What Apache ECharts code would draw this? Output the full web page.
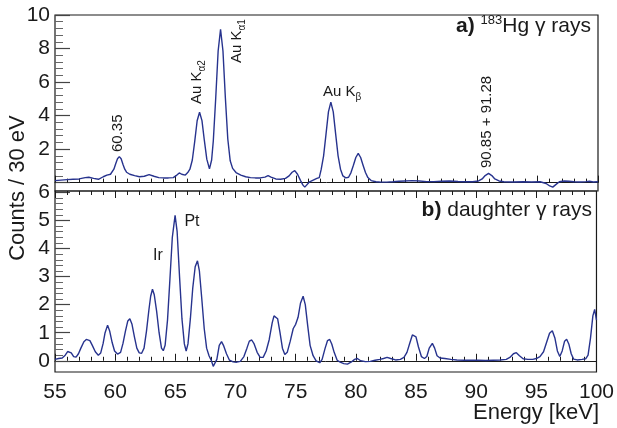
<!DOCTYPE html>
<html>
<head>
    <meta charset="utf-8">
    <title>Hg183 spectra</title>
    <script src="https://cdn.jsdelivr.net/npm/echarts@6/dist/echarts.min.js"></script>
    <style>
        body { margin: 0; background: #fff; }
        #main { width: 617px; height: 428px; }
    </style>
    <script type="text/javascript">
    // panel a) 183Hg gamma rays : energy [keV] / counts per 30 eV
    var topEnergy = [55.0, 55.5, 56.0, 56.5, 57.0, 57.5, 57.8, 58.2, 58.6, 59.0, 59.3, 59.6,
        59.73, 59.88, 60.03, 60.18, 60.33, 60.48, 60.63, 60.78, 60.93, 61.2, 61.6, 62.0, 62.4, 62.8,
        63.2, 63.6, 64.0, 64.4, 64.8, 65.1, 65.3, 65.5, 65.8, 66.0, 66.18, 66.38, 66.58, 66.78,
        66.98, 67.18, 67.38, 67.58, 67.8, 67.98, 68.12, 68.32, 68.52, 68.72, 68.92, 69.12, 69.32,
        69.52, 69.72, 70.0, 70.4, 70.8, 71.2, 71.6, 72.0, 72.4, 72.66, 72.9, 73.3, 73.7, 74.1,
        74.4, 74.65, 74.87, 75.1, 75.35, 75.55, 75.7, 75.85, 76.1, 76.4, 76.7, 76.9, 77.06, 77.26,
        77.46, 77.66, 77.86, 78.06, 78.26, 78.46, 78.66, 78.86, 79.1, 79.33, 79.53, 79.73, 79.93,
        80.13, 80.33, 80.53, 80.73, 80.93, 81.2, 81.6, 82.0, 82.5, 83.0, 83.5, 84.0, 84.6, 85.2,
        85.8, 86.4, 87.0, 87.7, 88.4, 89.0, 89.6, 90.1, 90.4, 90.65, 90.93, 91.2, 91.45, 91.8,
        92.2, 93.0, 93.8, 94.5, 95.2, 95.7, 96.0, 96.25, 96.5, 96.8, 97.2, 97.6, 98.0, 98.5, 99.0,
        99.3, 99.6, 100.0];
    var topCounts = [0.12, 0.15, 0.18, 0.2, 0.22, 0.3, 0.32, 0.25, 0.2, 0.35, 0.45, 0.5,
        0.6, 0.8, 1.12, 1.42, 1.55, 1.42, 1.1, 0.8, 0.62, 0.5, 0.42, 0.35, 0.38, 0.48,
        0.38, 0.3, 0.28, 0.28, 0.3, 0.45, 0.58, 0.5, 0.45, 0.6, 0.8, 1.35, 2.46, 3.69,
        4.2, 3.7, 2.5, 1.4, 0.82, 1.35, 2.5, 5.05, 7.85, 9.15, 7.85, 5.05, 2.6,
        1.3, 0.85, 0.6, 0.45, 0.35, 0.3, 0.28, 0.28, 0.33, 0.42, 0.33, 0.22, 0.2, 0.25,
        0.4, 0.62, 0.72, 0.5, 0.12, -0.15, -0.27, -0.2, 0.05, 0.15, 0.25, 0.3, 0.79, 1.6,
        2.89, 4.22, 4.8, 4.22, 2.89, 1.6, 0.8, 0.4, 0.28, 0.32, 0.6, 1.04, 1.5,
        1.75, 1.5, 1.04, 0.6, 0.3, 0.12, 0.05, 0.03, 0.03, 0.05, 0.08, 0.1, 0.12, 0.1,
        0.06, 0.06, 0.08, 0.1, 0.07, 0.05, 0.05, 0.1, 0.22, 0.42, 0.55, 0.42, 0.22, 0.1,
        0.05, 0.04, 0.05, 0.04, 0.05, -0.05, -0.2, -0.27, -0.12, 0.05, 0.1, 0.08, 0.05, 0.04, 0.06,
        0.08, 0.04, 0.05];

    // panel b) daughter gamma rays
    var botEnergy = [55.0, 55.3, 55.6, 55.85, 56.05, 56.18, 56.35, 56.55, 56.75, 56.95, 57.15, 57.4,
        57.6, 57.71, 57.9, 58.1, 58.35, 58.6, 58.8, 59.0, 59.15, 59.37, 59.55, 59.75, 59.95, 60.2,
        60.45, 60.65, 60.85, 61.05, 61.22, 61.4, 61.6, 61.8, 62.0, 62.2, 62.4, 62.6, 62.8, 62.95,
        63.1, 63.25, 63.45, 63.65, 63.85, 64.0, 64.15, 64.35, 64.55, 64.75, 64.98, 65.15, 65.35,
        65.55, 65.75, 65.9, 66.05, 66.25, 66.45, 66.65, 66.84, 67.0, 67.2, 67.4, 67.6, 67.8, 68.0,
        68.15, 68.3, 68.45, 68.65, 68.84, 69.0, 69.25, 69.5, 69.8, 70.1, 70.4, 70.7, 70.95, 71.15,
        71.35, 71.55, 71.8, 72.05, 72.3, 72.55, 72.8, 73.05, 73.2, 73.35, 73.5, 73.7, 73.9, 74.1,
        74.3, 74.55, 74.8, 75.0, 75.2, 75.4, 75.62, 75.8, 76.0, 76.2, 76.45, 76.7, 77.0, 77.2,
        77.45, 77.65, 77.83, 78.0, 78.2, 78.45, 78.7, 79.0, 79.3, 79.6, 79.9, 80.13, 80.4, 80.8,
        81.2, 81.6, 82.0, 82.3, 82.6, 82.9, 83.3, 83.7, 84.0, 84.25, 84.5, 84.7, 84.83, 85.0,
        85.2, 85.45, 85.7, 85.9, 86.1, 86.36, 86.55, 86.75, 87.0, 87.4, 87.9, 88.4, 89.0, 89.6,
        90.2, 90.8, 91.4, 92.0, 92.5, 92.8, 93.1, 93.34, 93.6, 93.9, 94.3, 94.7, 95.0, 95.3,
        95.6, 95.85, 96.1, 96.33, 96.55, 96.75, 96.95, 97.15, 97.35, 97.52, 97.7, 97.9, 98.1,
        98.4, 98.8, 99.1, 99.3, 99.5, 99.7, 99.85, 100.0];
    var botCounts = [0.05, 0.08, 0.1, 0.2, 0.33, 0.36, 0.28, 0.15, 0.13, 0.25, 0.45, 0.68,
        0.76, 0.77, 0.72, 0.55, 0.32, 0.2, 0.28, 0.62, 0.98, 1.27, 1.05, 0.65, 0.35, 0.24,
        0.3, 0.62, 1.05, 1.42, 1.5, 1.3, 0.85, 0.45, 0.28, 0.27, 0.45, 1.05, 1.8, 2.3,
        2.55, 2.35, 1.75, 1.0, 0.45, 0.36, 0.55, 1.45, 2.9, 4.4, 5.18, 4.6, 3.0,
        1.5, 0.6, 0.35, 0.6, 1.5, 2.6, 3.35, 3.56, 3.2, 2.2, 1.15, 0.45, 0.18, 0.0,
        -0.2, -0.27, 0.05, 0.55, 0.68, 0.55, 0.25, 0.02, -0.04, -0.05, -0.02, 0.15, 0.45, 0.7,
        0.74, 0.6, 0.3, 0.12, 0.12, 0.35, 0.75, 1.35, 1.6, 1.66, 1.5, 1.0, 0.45, 0.22,
        0.3, 0.7, 1.15, 1.3, 1.55, 2.05, 2.3, 2.0, 1.25, 0.55, 0.18, 0.0, -0.07, 0.05,
        0.45, 0.72, 0.76, 0.6, 0.3, 0.02, -0.05, -0.1, -0.12, -0.05, 0.05, 0.08, 0.0, -0.03,
        -0.02, 0.02, 0.05, 0.08, 0.12, 0.08, 0.03, 0.05, 0.12, 0.3, 0.65, 0.92, 0.97, 0.85,
        0.5, 0.15, 0.08, 0.15, 0.45, 0.62, 0.45, 0.18, 0.1, 0.08, 0.05, 0.03, 0.02, 0.02,
        0.02, 0.01, 0.02, 0.03, 0.05, 0.12, 0.25, 0.29, 0.18, 0.07, 0.05, 0.05, 0.08, 0.15,
        0.32, 0.65, 0.98, 1.07, 0.8, 0.35, 0.15, 0.35, 0.7, 0.77, 0.6, 0.25, 0.06,
        0.03, 0.05, 0.07, 0.2, 0.8, 1.6, 1.83, 1.45];

    var energyTicks = [55, 100, 5];   // min, max, step
    var topTicks = [0, 10, 2];
    var botTicks = [0, 6, 1];

    function zip(xs, ys) {
        var out = [];
        for (var i = 0; i < xs.length; i++) out.push([xs[i], ys[i]]);
        return out;
    }

    window.onload = function () {
        var font = 'Liberation Sans, Arial, Helvetica, sans-serif';
        var ink = '#1a1a1a';
        var blue = '#27338e';

        var xTick = { show: true, inside: true, length: 7, lineStyle: { color: ink, width: 1 } };
        var xMinor = { show: true, splitNumber: 5, length: 4, lineStyle: { color: ink, width: 1 } };
        var yTick = { show: true, inside: true, length: 15, lineStyle: { color: '#444', width: 1.2 } };
        var yMinor = { show: true, splitNumber: 5, length: 8, lineStyle: { color: '#666', width: 1 } };

        var option = {
            animation: false,
            // 0,1: data panels; 2,3: tick-only panels covering the labelled range
            grid: [
                { left: 55, top: 15, width: 543, height: 176, show: true, borderColor: ink, borderWidth: 1.2 },
                { left: 55, top: 191, width: 543, height: 181, show: true, borderColor: ink, borderWidth: 1.2 },
                { left: 55, top: 15, width: 543, height: 167.6 },
                { left: 55, top: 192.4, width: 543, height: 168.4 }
            ],
            xAxis: [
                { gridIndex: 0, type: 'value', min: energyTicks[0], max: energyTicks[1], interval: energyTicks[2],
                  axisLine: { lineStyle: { color: ink } }, axisTick: xTick, minorTick: xMinor,
                  axisLabel: { show: false }, splitLine: { show: false } },
                { gridIndex: 1, type: 'value', min: energyTicks[0], max: energyTicks[1], interval: energyTicks[2],
                  axisLine: { lineStyle: { color: ink } }, axisTick: xTick, minorTick: xMinor,
                  axisLabel: { fontSize: 21, fontFamily: font, color: ink, margin: 10 },
                  splitLine: { show: false } },
                { gridIndex: 1, type: 'value', position: 'top', min: energyTicks[0], max: energyTicks[1],
                  interval: energyTicks[2], axisLine: { show: false }, axisTick: xTick, minorTick: xMinor,
                  axisLabel: { show: false }, splitLine: { show: false } },
                { gridIndex: 2, type: 'value', min: 55, max: 100, show: false },
                { gridIndex: 3, type: 'value', min: 55, max: 100, show: false }
            ],
            yAxis: [
                { gridIndex: 0, type: 'value', min: -0.5, max: 10, show: false },
                { gridIndex: 1, type: 'value', min: -0.4, max: 6.05, show: false },
                { gridIndex: 2, type: 'value', min: topTicks[0], max: topTicks[1], interval: topTicks[2],
                  axisLine: { show: false }, axisTick: yTick, minorTick: yMinor, splitLine: { show: false },
                  axisLabel: { fontSize: 21, fontFamily: font, color: ink, margin: 5,
                      formatter: function (v) { return v === 0 ? '' : v; } } },
                { gridIndex: 3, type: 'value', min: botTicks[0], max: botTicks[1], interval: botTicks[2],
                  axisLine: { show: false }, axisTick: yTick, minorTick: yMinor, splitLine: { show: false },
                  axisLabel: { fontSize: 21, fontFamily: font, color: ink, margin: 5 } }
            ],
            series: [
                { type: 'line', xAxisIndex: 0, yAxisIndex: 0, data: zip(topEnergy, topCounts),
                  showSymbol: false, lineStyle: { color: blue, width: 1.4 } },
                { type: 'line', xAxisIndex: 1, yAxisIndex: 1, data: zip(botEnergy, botCounts),
                  showSymbol: false, lineStyle: { color: blue, width: 1.4 } }
            ],
            graphic: [
                { type: 'text', x: 18, y: 188, rotation: Math.PI / 2,
                  style: { text: 'Counts / 30 eV', font: '22px ' + font, fill: ink,
                           textAlign: 'center', textVerticalAlign: 'middle' } },
                { type: 'text', x: 599, y: 413,
                  style: { text: 'Energy [keV]', font: '22px ' + font, fill: ink,
                           textAlign: 'right', textVerticalAlign: 'middle' } },
                { type: 'text', x: 591, y: 26,
                  style: { text: '{b|a)} {sup|183}Hg γ rays', font: '21px ' + font, fill: ink,
                           textAlign: 'right', textVerticalAlign: 'middle',
                           rich: { b: { fontWeight: 'bold', fontSize: 21, lineHeight: 24 },
                                   sup: { fontSize: 13, verticalAlign: 'top', lineHeight: 24 } } } },
                { type: 'text', x: 592, y: 210,
                  style: { text: '{b|b)} daughter γ rays', font: '21px ' + font, fill: ink,
                           textAlign: 'right', textVerticalAlign: 'middle',
                           rich: { b: { fontWeight: 'bold', fontSize: 21 } } } },
                { type: 'text', x: 118, y: 152, rotation: Math.PI / 2,
                  style: { text: '60.35', font: '15px ' + font, fill: ink,
                           textAlign: 'left', textVerticalAlign: 'middle' } },
                { type: 'text', x: 197, y: 104, rotation: Math.PI / 2,
                  style: { text: 'Au K{sub|α2}', font: '15px ' + font, fill: ink,
                           textAlign: 'left', textVerticalAlign: 'middle',
                           rich: { sub: { fontSize: 10, verticalAlign: 'bottom', lineHeight: 20 } } } },
                { type: 'text', x: 237, y: 63, rotation: Math.PI / 2,
                  style: { text: 'Au K{sub|α1}', font: '15px ' + font, fill: ink,
                           textAlign: 'left', textVerticalAlign: 'middle',
                           rich: { sub: { fontSize: 10, verticalAlign: 'bottom', lineHeight: 20 } } } },
                { type: 'text', x: 323, y: 92,
                  style: { text: 'Au K{sub|β}', font: '15px ' + font, fill: ink,
                           textAlign: 'left', textVerticalAlign: 'middle',
                           rich: { sub: { fontSize: 10, verticalAlign: 'bottom', lineHeight: 20 } } } },
                { type: 'text', x: 487, y: 168, rotation: Math.PI / 2,
                  style: { text: '90.85 + 91.28', font: '15px ' + font, fill: ink,
                           textAlign: 'left', textVerticalAlign: 'middle' } },
                { type: 'text', x: 158, y: 256,
                  style: { text: 'Ir', font: '16px ' + font, fill: ink,
                           textAlign: 'center', textVerticalAlign: 'middle' } },
                { type: 'text', x: 192, y: 222,
                  style: { text: 'Pt', font: '16px ' + font, fill: ink,
                           textAlign: 'center', textVerticalAlign: 'middle' } }
            ]
        };

        var myChart = echarts.init(document.getElementById('main'));
        myChart.setOption(option);
    };
    </script>
</head>
<body>
    <div id="main"></div>
</body>
</html>
